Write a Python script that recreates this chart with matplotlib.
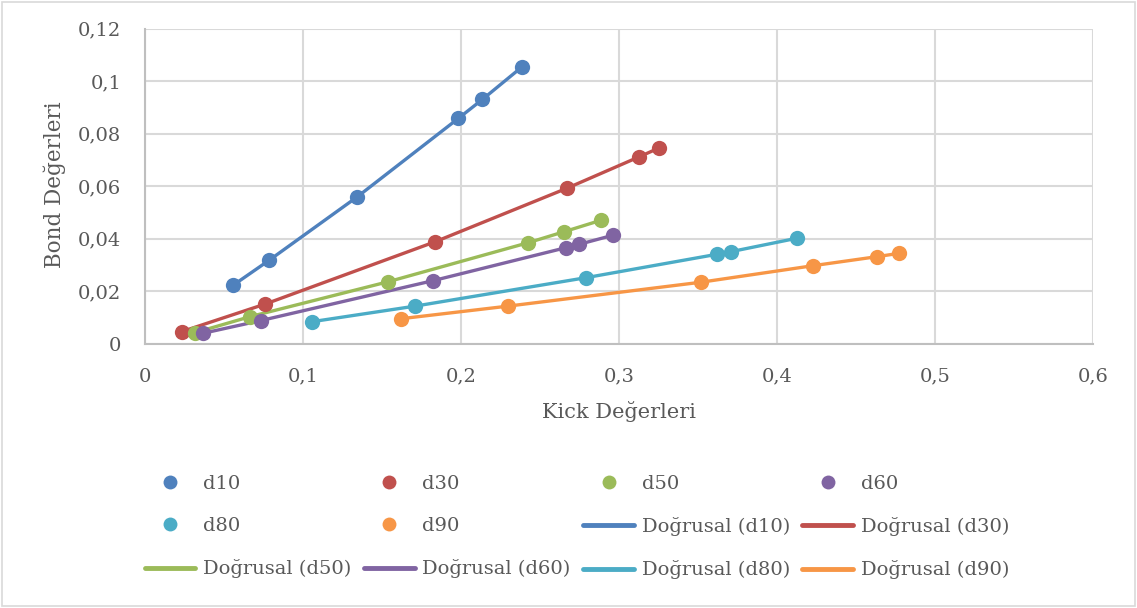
import matplotlib
matplotlib.use("Agg")
import matplotlib.pyplot as plt
from matplotlib.lines import Line2D
from matplotlib.patches import Rectangle
from matplotlib.ticker import FuncFormatter

# Kick / Bond measurements per size class
series_names = ["d10", "d30", "d50", "d60", "d80", "d90"]

kick_d10 = [0.0559, 0.0787, 0.1344, 0.1983, 0.2135, 0.2386]
bond_d10 = [0.0224, 0.0319, 0.0560, 0.0858, 0.0930, 0.1054]

kick_d30 = [0.0232, 0.0761, 0.1837, 0.2669, 0.3128, 0.3255]
bond_d30 = [0.0047, 0.0152, 0.0389, 0.0592, 0.0712, 0.0746]

kick_d50 = [0.0316, 0.0665, 0.1540, 0.2424, 0.2652, 0.2888]
bond_d50 = [0.0043, 0.0104, 0.0237, 0.0385, 0.0427, 0.0471]

kick_d60 = [0.0369, 0.0732, 0.1824, 0.2662, 0.2747, 0.2964]
bond_d60 = [0.0041, 0.0089, 0.0241, 0.0366, 0.0379, 0.0414]

kick_d80 = [0.1059, 0.1709, 0.2789, 0.3618, 0.3707, 0.4124]
bond_d80 = [0.0085, 0.0144, 0.0252, 0.0341, 0.0351, 0.0402]

kick_d90 = [0.1618, 0.2297, 0.3519, 0.4230, 0.4631, 0.4774]
bond_d90 = [0.0096, 0.0144, 0.0235, 0.0298, 0.0332, 0.0345]

kick = [kick_d10, kick_d30, kick_d50, kick_d60, kick_d80, kick_d90]
bond = [bond_d10, bond_d30, bond_d50, bond_d60, bond_d80, bond_d90]

x_ticks = [0, 0.1, 0.2, 0.3, 0.4, 0.5, 0.6]
y_ticks = [0, 0.02, 0.04, 0.06, 0.08, 0.10, 0.12]

colors = ["#4F81BD", "#C0504D", "#9BBB59", "#8064A2", "#4BACC6", "#F79646"]
text_color = "#595959"
grid_color = "#D9D9D9"

plt.rcParams["font.family"] = ["DejaVu Serif"]

fig = plt.figure(figsize=(11.37, 6.08), dpi=100)
ax = fig.add_axes([145 / 1137, 1 - 344 / 608, (1093 - 145) / 1137, (344 - 28.5) / 608])

# outer chart frame
fig.patches.append(Rectangle((0.002, 0.003), 0.996, 0.994, transform=fig.transFigure,
                             fill=False, edgecolor=grid_color, linewidth=1.2))

for name, xs, ys, c in zip(series_names, kick, bond, colors):
    ax.plot(xs, ys, color=c, linewidth=2.4, solid_capstyle="round", zorder=3)
    ax.plot(xs, ys, linestyle="none", marker="o", markersize=11, color=c,
            markeredgewidth=0, zorder=4)

ax.set_xlim(0, 0.6)
ax.set_ylim(0, 0.12)
ax.set_xticks(x_ticks)
ax.set_yticks(y_ticks)


def comma_fmt(v, pos):
    if abs(v) < 1e-12:
        return "0"
    s = f"{v:.2f}".rstrip("0")
    return s.replace(".", ",")


ax.xaxis.set_major_formatter(FuncFormatter(comma_fmt))
ax.yaxis.set_major_formatter(FuncFormatter(comma_fmt))
ax.tick_params(axis="both", length=0, labelsize=14, colors=text_color)
ax.tick_params(axis="x", pad=17)
ax.tick_params(axis="y", pad=17)

ax.grid(True, color=grid_color, linewidth=1.5)
ax.set_axisbelow(True)
for side in ["top", "right"]:
    ax.spines[side].set_visible(False)
for side in ["left", "bottom"]:
    ax.spines[side].set_color("#BFBFBF")
    ax.spines[side].set_linewidth(1.5)

fig.text(619 / 1137, 1 - 412 / 608, "Kick Değerleri", ha="center", va="center",
         fontsize=15, color=text_color)
fig.text(55 / 1137, 1 - 185 / 608, "Bond Değerleri", ha="center", va="center",
         rotation=90, fontsize=15.5, color=text_color)

# legend: markers first, then the line entries, laid out row by row in 4 columns
marker_handles = [Line2D([], [], linestyle="none", marker="o", markersize=10,
                         color=c, markeredgewidth=0) for c in colors]
line_handles = [Line2D([], [], color=c, linewidth=3.5, solid_capstyle="round")
                for c in colors]
items = list(zip(marker_handles, series_names)) + \
    list(zip(line_handles, [f"Doğrusal ({n})" for n in series_names]))
ncol, nrow = 4, 3
order = [r * ncol + c for c in range(ncol) for r in range(nrow)]
handles = [items[i][0] for i in order]
labels = [items[i][1] for i in order]
leg = fig.legend(handles, labels, ncol=ncol, loc="center",
                 bbox_to_anchor=(577 / 1137, 1 - 527 / 608), frameon=False,
                 fontsize=14, handlelength=2.6, handletextpad=0.4,
                 columnspacing=0.65, labelspacing=1.25, labelcolor=text_color)

fig.savefig("out.png", dpi=100)
